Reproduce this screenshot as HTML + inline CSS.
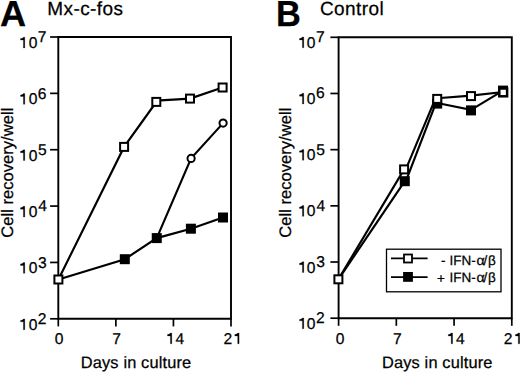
<!DOCTYPE html><html><head><meta charset="utf-8"><style>html,body{margin:0;padding:0;background:#fff;width:520px;height:372px;overflow:hidden}svg{display:block}text{font-family:"Liberation Sans",sans-serif;fill:#000;stroke:#000;stroke-width:0.25px;text-rendering:geometricPrecision}</style></head><body>
<svg width="520" height="372" viewBox="0 0 520 372">
<defs><path id="one" d="M2.9,-10.75 L4.3,-10.75 L4.3,0 L2.9,0 L2.9,-7.85 L0,-7.85 L0,-9.3 C1.4,-9.35 2.5,-9.85 2.9,-10.75 Z" fill="#000" stroke="#000" stroke-width="0.25"/></defs>
<text x="-0.1" y="26.0" font-size="36.2" text-anchor="start" font-weight="bold" >A</text>
<text x="47.3" y="15.2" font-size="19" text-anchor="start" font-weight="normal" letter-spacing="0.4">Mx-c-fos</text>
<path d="M58.3,37.0 H231.0 V318.8 H58.3 Z" fill="none" stroke="#000" stroke-width="1.9" stroke-linejoin="miter"/>
<line x1="50.099999999999994" y1="318.80" x2="58.3" y2="318.80" stroke="#000" stroke-width="1.7"/>
<use href="#one" x="20.50" y="329.70"/>
<text x="28.84" y="329.70" font-size="15.6" text-anchor="start" font-weight="normal" >0</text>
<text x="37.77" y="324.10" font-size="15.6" text-anchor="start" font-weight="normal" >2</text>
<line x1="50.099999999999994" y1="262.44" x2="58.3" y2="262.44" stroke="#000" stroke-width="1.7"/>
<use href="#one" x="20.50" y="273.34"/>
<text x="28.84" y="273.34" font-size="15.6" text-anchor="start" font-weight="normal" >0</text>
<text x="37.96" y="267.74" font-size="15.6" text-anchor="start" font-weight="normal" >3</text>
<line x1="50.099999999999994" y1="206.08" x2="58.3" y2="206.08" stroke="#000" stroke-width="1.7"/>
<use href="#one" x="20.50" y="216.98"/>
<text x="28.84" y="216.98" font-size="15.6" text-anchor="start" font-weight="normal" >0</text>
<text x="38.19" y="211.38" font-size="15.6" text-anchor="start" font-weight="normal" >4</text>
<line x1="50.099999999999994" y1="149.72" x2="58.3" y2="149.72" stroke="#000" stroke-width="1.7"/>
<use href="#one" x="20.50" y="160.62"/>
<text x="28.84" y="160.62" font-size="15.6" text-anchor="start" font-weight="normal" >0</text>
<text x="37.93" y="155.02" font-size="15.6" text-anchor="start" font-weight="normal" >5</text>
<line x1="50.099999999999994" y1="93.36" x2="58.3" y2="93.36" stroke="#000" stroke-width="1.7"/>
<use href="#one" x="20.50" y="104.26"/>
<text x="28.84" y="104.26" font-size="15.6" text-anchor="start" font-weight="normal" >0</text>
<text x="37.76" y="98.66" font-size="15.6" text-anchor="start" font-weight="normal" >6</text>
<line x1="50.099999999999994" y1="37.00" x2="58.3" y2="37.00" stroke="#000" stroke-width="1.7"/>
<use href="#one" x="20.50" y="47.90"/>
<text x="28.84" y="47.90" font-size="15.6" text-anchor="start" font-weight="normal" >0</text>
<text x="37.75" y="42.30" font-size="15.6" text-anchor="start" font-weight="normal" >7</text>
<line x1="58.30" y1="318.8" x2="58.30" y2="326.40000000000003" stroke="#000" stroke-width="1.7"/>
<line x1="115.87" y1="318.8" x2="115.87" y2="326.40000000000003" stroke="#000" stroke-width="1.7"/>
<line x1="173.43" y1="318.8" x2="173.43" y2="326.40000000000003" stroke="#000" stroke-width="1.7"/>
<line x1="231.00" y1="318.8" x2="231.00" y2="326.40000000000003" stroke="#000" stroke-width="1.7"/>
<text transform="translate(12.6,237.7) rotate(-90)" x="0" y="0" font-size="16.6">Cell recovery/well</text>
<text x="54.64" y="343.80" font-size="15.6" text-anchor="start" font-weight="normal" >0</text>
<text x="112.15" y="343.80" font-size="15.6" text-anchor="start" font-weight="normal" >7</text>
<use href="#one" x="167.50" y="343.80"/>
<text x="175.59" y="343.80" font-size="15.6" text-anchor="start" font-weight="normal" >4</text>
<text x="223.57" y="343.80" font-size="15.6" text-anchor="start" font-weight="normal" >2</text>
<use href="#one" x="234.80" y="343.80"/>
<text x="80.8" y="368.0" font-size="16.4" text-anchor="start" font-weight="normal" letter-spacing="0.14">Days in culture</text>
<polyline points="58.40,279.50 124.10,146.90 156.30,102.00" fill="none" stroke="#000" stroke-width="2.15" stroke-linejoin="miter"/>
<polyline points="156.30,100.60 190.00,98.60 222.60,87.50" fill="none" stroke="#000" stroke-width="2.15" stroke-linejoin="miter"/>
<polyline points="58.40,279.50 124.80,259.20 156.75,238.10 190.90,228.70 223.00,217.50" fill="none" stroke="#000" stroke-width="2.15" stroke-linejoin="miter"/>
<polyline points="156.75,238.10 191.10,158.40 223.10,123.10" fill="none" stroke="#000" stroke-width="2.15" stroke-linejoin="miter"/>
<rect x="120.10" y="142.90" width="8.00" height="8.00" fill="#fff" stroke="#000" stroke-width="2.0"/>
<rect x="152.30" y="97.90" width="8.00" height="8.00" fill="#fff" stroke="#000" stroke-width="2.0"/>
<rect x="186.00" y="94.60" width="8.00" height="8.00" fill="#fff" stroke="#000" stroke-width="2.0"/>
<rect x="218.60" y="83.50" width="8.00" height="8.00" fill="#fff" stroke="#000" stroke-width="2.0"/>
<rect x="119.80" y="254.20" width="10.00" height="10.00" fill="#000"/>
<rect x="151.75" y="233.10" width="10.00" height="10.00" fill="#000"/>
<rect x="185.90" y="223.70" width="10.00" height="10.00" fill="#000"/>
<rect x="218.00" y="212.50" width="10.00" height="10.00" fill="#000"/>
<circle cx="191.10" cy="158.40" r="3.6" fill="#fff" stroke="#000" stroke-width="2.0"/>
<circle cx="223.10" cy="123.10" r="3.6" fill="#fff" stroke="#000" stroke-width="2.0"/>
<rect x="54.40" y="275.50" width="8.00" height="8.00" fill="#fff" stroke="#000" stroke-width="2.0"/>
<text x="276.0" y="26.0" font-size="36.2" text-anchor="start" font-weight="bold" transform="translate(277.6,0) scale(0.95,1) translate(-277.6,0)">B</text>
<text x="319.9" y="15.2" font-size="19" text-anchor="start" font-weight="normal" letter-spacing="0.42">Control</text>
<path d="M338.6,37.3 H511.8 V318.2 H338.6 Z" fill="none" stroke="#000" stroke-width="1.9" stroke-linejoin="miter"/>
<line x1="330.40000000000003" y1="318.20" x2="338.6" y2="318.20" stroke="#000" stroke-width="1.7"/>
<use href="#one" x="299.50" y="328.70"/>
<text x="306.84" y="328.70" font-size="15.6" text-anchor="start" font-weight="normal" >0</text>
<text x="316.07" y="323.20" font-size="15.6" text-anchor="start" font-weight="normal" >2</text>
<line x1="330.40000000000003" y1="262.02" x2="338.6" y2="262.02" stroke="#000" stroke-width="1.7"/>
<use href="#one" x="299.50" y="272.52"/>
<text x="306.84" y="272.52" font-size="15.6" text-anchor="start" font-weight="normal" >0</text>
<text x="316.26" y="267.02" font-size="15.6" text-anchor="start" font-weight="normal" >3</text>
<line x1="330.40000000000003" y1="205.84" x2="338.6" y2="205.84" stroke="#000" stroke-width="1.7"/>
<use href="#one" x="299.50" y="216.34"/>
<text x="306.84" y="216.34" font-size="15.6" text-anchor="start" font-weight="normal" >0</text>
<text x="316.49" y="210.84" font-size="15.6" text-anchor="start" font-weight="normal" >4</text>
<line x1="330.40000000000003" y1="149.66" x2="338.6" y2="149.66" stroke="#000" stroke-width="1.7"/>
<use href="#one" x="299.50" y="160.16"/>
<text x="306.84" y="160.16" font-size="15.6" text-anchor="start" font-weight="normal" >0</text>
<text x="316.23" y="154.66" font-size="15.6" text-anchor="start" font-weight="normal" >5</text>
<line x1="330.40000000000003" y1="93.48" x2="338.6" y2="93.48" stroke="#000" stroke-width="1.7"/>
<use href="#one" x="299.50" y="103.98"/>
<text x="306.84" y="103.98" font-size="15.6" text-anchor="start" font-weight="normal" >0</text>
<text x="316.06" y="98.48" font-size="15.6" text-anchor="start" font-weight="normal" >6</text>
<line x1="330.40000000000003" y1="37.30" x2="338.6" y2="37.30" stroke="#000" stroke-width="1.7"/>
<use href="#one" x="299.50" y="47.80"/>
<text x="306.84" y="47.80" font-size="15.6" text-anchor="start" font-weight="normal" >0</text>
<text x="316.05" y="42.30" font-size="15.6" text-anchor="start" font-weight="normal" >7</text>
<line x1="338.60" y1="318.2" x2="338.60" y2="325.8" stroke="#000" stroke-width="1.7"/>
<line x1="396.33" y1="318.2" x2="396.33" y2="325.8" stroke="#000" stroke-width="1.7"/>
<line x1="454.07" y1="318.2" x2="454.07" y2="325.8" stroke="#000" stroke-width="1.7"/>
<line x1="511.80" y1="318.2" x2="511.80" y2="325.8" stroke="#000" stroke-width="1.7"/>
<text transform="translate(290.5,237.7) rotate(-90)" x="0" y="0" font-size="16.6">Cell recovery/well</text>
<text x="335.64" y="343.80" font-size="15.6" text-anchor="start" font-weight="normal" >0</text>
<text x="393.05" y="343.80" font-size="15.6" text-anchor="start" font-weight="normal" >7</text>
<use href="#one" x="448.30" y="343.80"/>
<text x="455.99" y="343.80" font-size="15.6" text-anchor="start" font-weight="normal" >4</text>
<text x="503.67" y="343.80" font-size="15.6" text-anchor="start" font-weight="normal" >2</text>
<use href="#one" x="515.40" y="343.80"/>
<text x="382" y="368.0" font-size="16.4" text-anchor="start" font-weight="normal" letter-spacing="0.14">Days in culture</text>
<polyline points="338.40,279.30 404.80,181.20" fill="none" stroke="#000" stroke-width="2.15" stroke-linejoin="miter"/>
<polyline points="405.90,181.20 435.70,103.60" fill="none" stroke="#000" stroke-width="2.15" stroke-linejoin="miter"/>
<polyline points="437.20,103.00 471.00,109.80 503.00,90.60" fill="none" stroke="#000" stroke-width="2.15" stroke-linejoin="miter"/>
<polyline points="338.40,279.30 404.10,169.40" fill="none" stroke="#000" stroke-width="2.15" stroke-linejoin="miter"/>
<polyline points="405.80,169.40 435.30,98.90" fill="none" stroke="#000" stroke-width="2.15" stroke-linejoin="miter"/>
<polyline points="437.20,98.30 471.00,95.60 503.20,92.00" fill="none" stroke="#000" stroke-width="2.15" stroke-linejoin="miter"/>
<rect x="399.80" y="176.20" width="10.00" height="10.00" fill="#000"/>
<rect x="432.20" y="98.60" width="10.00" height="10.00" fill="#000"/>
<rect x="466.00" y="105.40" width="10.00" height="10.00" fill="#000"/>
<rect x="498.00" y="85.60" width="10.00" height="10.00" fill="#000"/>
<rect x="400.10" y="165.40" width="8.00" height="8.00" fill="#fff" stroke="#000" stroke-width="2.0"/>
<rect x="433.20" y="94.90" width="8.00" height="8.00" fill="#fff" stroke="#000" stroke-width="2.0"/>
<rect x="467.00" y="92.10" width="8.00" height="8.00" fill="#fff" stroke="#000" stroke-width="2.0"/>
<rect x="499.30" y="88.50" width="7.80" height="7.80" fill="#fff" stroke="#000" stroke-width="2.5"/>
<rect x="334.40" y="275.30" width="8.00" height="8.00" fill="#fff" stroke="#000" stroke-width="2.0"/>
<rect x="386.5" y="249.2" width="114.5" height="42.6" fill="#fff" stroke="#000" stroke-width="1.3"/>
<line x1="391" y1="258.4" x2="427.6" y2="258.4" stroke="#000" stroke-width="1.8"/>
<line x1="391" y1="277.1" x2="427.6" y2="277.1" stroke="#000" stroke-width="1.8"/>
<rect x="404.00" y="254.50" width="8.00" height="8.00" fill="#fff" stroke="#000" stroke-width="1.8"/>
<rect x="403.10" y="272.00" width="9.80" height="9.80" fill="#000"/>
<text x="441" y="264.8" font-size="13.5" text-anchor="start" font-weight="normal" >-</text>
<text x="437" y="282.7" font-size="13.5" text-anchor="start" font-weight="normal" >+</text>
<text x="449.5" y="264.8" font-size="13.5" text-anchor="start" font-weight="normal" >IFN-</text>
<text x="476.6" y="264.8" font-size="13.5" text-anchor="start" font-weight="normal" transform="translate(476.6,0) scale(1.05,1) translate(-476.6,0)">&#945;</text>
<text x="483.4" y="264.8" font-size="13.5" text-anchor="start" font-weight="normal" >/</text>
<text x="488.1" y="264.8" font-size="13.5" text-anchor="start" font-weight="normal" >&#946;</text>
<text x="449.5" y="281.7" font-size="13.5" text-anchor="start" font-weight="normal" >IFN-</text>
<text x="476.6" y="281.7" font-size="13.5" text-anchor="start" font-weight="normal" transform="translate(476.6,0) scale(1.05,1) translate(-476.6,0)">&#945;</text>
<text x="483.4" y="281.7" font-size="13.5" text-anchor="start" font-weight="normal" >/</text>
<text x="488.1" y="281.7" font-size="13.5" text-anchor="start" font-weight="normal" >&#946;</text>
</svg></body></html>
